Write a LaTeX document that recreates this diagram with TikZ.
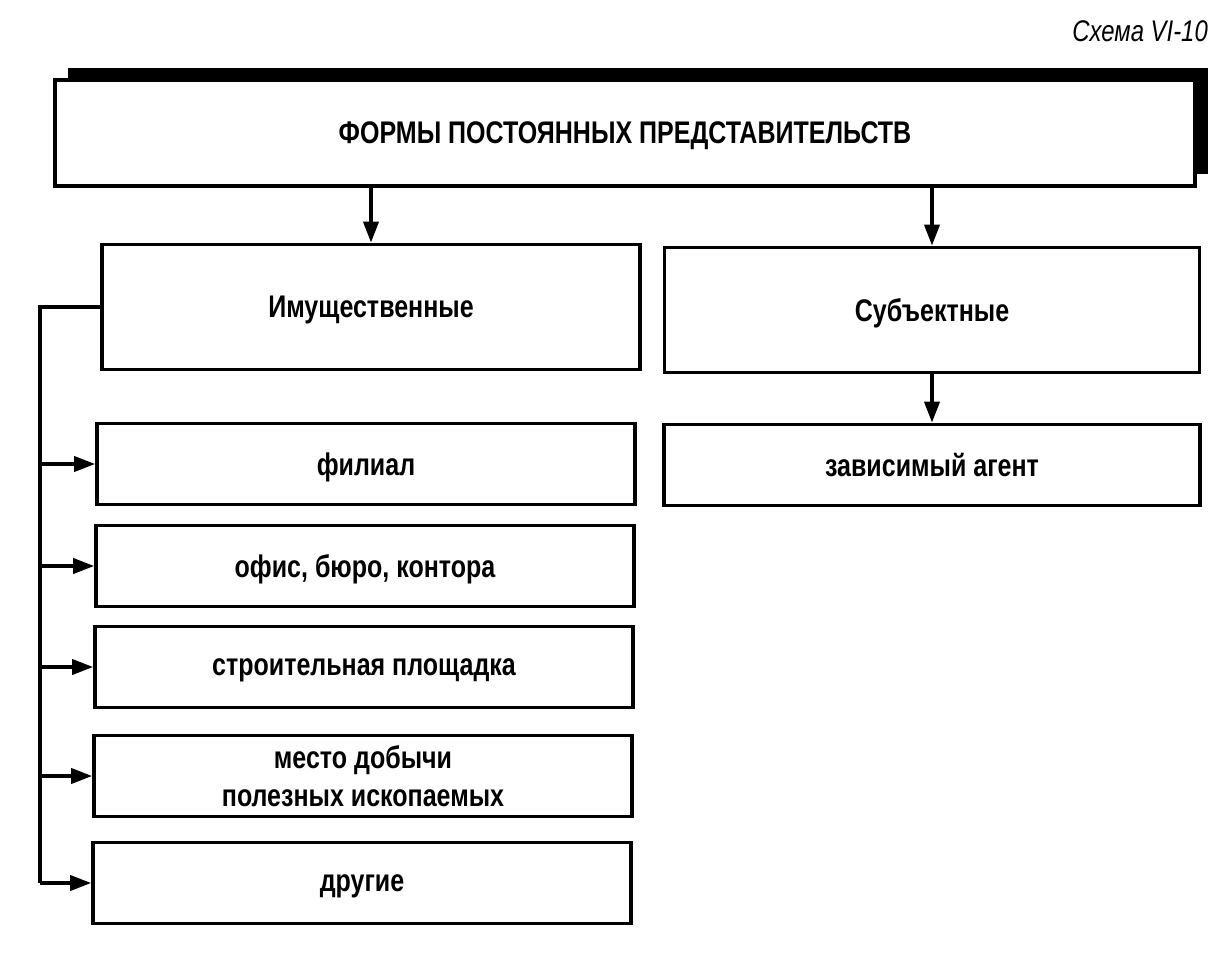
\documentclass[tikz,border=0pt]{standalone}
\usepackage{fontspec}
\setmainfont{Liberation Sans}[FakeStretch=0.8]
\usetikzlibrary{arrows.meta, shadows, positioning}

\tikzset{
    box/.style={draw, line width=2.1pt, fill=white, minimum width=10.76cm, minimum height=1.62cm,
        align=center, font=\fontsize{17.8}{22}\selectfont\bfseries, inner sep=2pt, text depth=0pt},
    bigbox/.style={box, minimum height=2.5cm},
    arr/.style={line width=2.1pt, -{Triangle[length=0.42cm, width=0.3cm]}},
    lnk/.style={line width=2.1pt}
}

\begin{document}
\begin{tikzpicture}[x=0.02cm, y=-0.02cm]
        \useasboundingbox (0,0) rectangle (1232,957);
        % title
        \node[anchor=east, font=\fontsize{17}{20}\selectfont\itshape] (scheme) at (1214,31) {Схема VI-10};
        % top
        \node[box, minimum width=22.8cm, minimum height=2.12cm,
            drop shadow={shadow xshift=0.26cm, shadow yshift=0.24cm, fill=black, opacity=1}]
            (forms) at (625,133) {ФОРМЫ ПОСТОЯННЫХ ПРЕДСТАВИТЕЛЬСТВ};
        % second level
        \node[bigbox] (prop) at (371,307) {Имущественные};
        \node[bigbox, minimum width=10.7cm] (subj) at (932,310) {Субъектные};
        \node[box, minimum width=10.72cm] (agent) at (932,465) {зависимый агент};
        % left column
        \node[box] (fil) at (366,464) {филиал};
        \node[box] (ofis) at (365,566) {офис, бюро, контора};
        \node[box] (stroy) at (364,667) {строительная площадка};
        \node[box] (mesto) at (363,776) {место добычи\\полезных ископаемых};
        \node[box] (drug) at (362,883) {другие};
        \coordinate (bus) at (40,883);
        % arrows
        \draw[arr] (forms.south -| prop) -- (prop.north);
        \draw[arr] (forms.south -| subj) -- (subj.north);
        \draw[arr] (subj.south -| agent) -- (agent.north);
        \draw[lnk] (prop.west) -| (bus);
        \foreach \n in {fil, ofis, stroy, mesto, drug}
            \draw[arr] (bus |- \n.west) -- (\n.west);
\end{tikzpicture}
\end{document}
